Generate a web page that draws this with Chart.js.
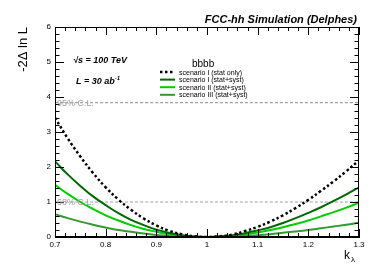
<!DOCTYPE html>
<html>
<head>
<meta charset="utf-8">
<script src="https://cdn.jsdelivr.net/npm/chart.js@4.4.1/dist/chart.umd.min.js"></script>
<style>
  html, body { margin: 0; padding: 0; background: #fff; }
</style>
</head>
<body>
<canvas id="scan" width="390" height="265"></canvas>
<script>
// kappa_lambda scan points
const kappa = [0.7, 0.725, 0.75, 0.775, 0.8, 0.825, 0.85, 0.875, 0.9, 0.925, 0.95, 0.975, 1.0,
               1.025, 1.05, 1.075, 1.1, 1.125, 1.15, 1.175, 1.2, 1.225, 1.25, 1.275, 1.3];

// -2 delta ln L for each scenario
const statOnly = [3.41, 2.82, 2.30, 1.83, 1.42, 1.07, 0.78, 0.53, 0.33, 0.18, 0.08, 0.02, 0,
                  0.02, 0.07, 0.17, 0.29, 0.44, 0.62, 0.83, 1.06, 1.32, 1.59, 1.88, 2.19];
const scenarioI = [2.16, 1.79, 1.46, 1.16, 0.91, 0.68, 0.49, 0.34, 0.21, 0.12, 0.05, 0.012, 0,
                   0.012, 0.05, 0.11, 0.19, 0.28, 0.40, 0.54, 0.69, 0.85, 1.03, 1.22, 1.42];
const scenarioII = [1.49, 1.23, 1.00, 0.80, 0.62, 0.47, 0.34, 0.23, 0.15, 0.08, 0.04, 0.01, 0,
                    0.01, 0.03, 0.07, 0.13, 0.20, 0.28, 0.37, 0.47, 0.59, 0.71, 0.84, 0.98];
const scenarioIII = [0.65, 0.54, 0.44, 0.35, 0.27, 0.20, 0.15, 0.10, 0.06, 0.03, 0.01, 0.003, 0,
                     0.003, 0.01, 0.03, 0.05, 0.08, 0.12, 0.16, 0.20, 0.25, 0.30, 0.35, 0.41];

const seriesNames = ['scenario I (stat only)', 'scenario I (stat+syst)',
                     'scenario II (stat+syst)', 'scenario III (stat+syst)'];

// confidence levels
const clLevels = [3.84, 1];
const clLabels = ['95% C.L.', '68% C.L.'];

const xRange = [0.7, 1.3];
const yRange = [0, 6];

const pts = ys => kappa.map((k, i) => ({ x: k, y: ys[i] }));
const flat = v => xRange.map(x => ({ x: x, y: v }));

const FONT = '"Liberation Sans", Arial, sans-serif';

// ROOT style frame, inward ticks and text
const rootStyle = {
  id: 'rootStyle',
  afterDatasetsDraw(chart) {
    const ctx = chart.ctx;
    const a = chart.chartArea;
    const xs = chart.scales.x, ys = chart.scales.y;
    ctx.save();
    ctx.strokeStyle = '#000';
    ctx.lineWidth = 1;
    ctx.strokeRect(a.left + 0.5, a.top + 0.5, a.right - a.left - 1, a.bottom - a.top - 1);

    ctx.beginPath();
    for (let i = 0; i <= 30; i++) {
      const v = xRange[0] + i * 0.02;
      const px = Math.round(xs.getPixelForValue(v)) + 0.5;
      const len = i % 5 === 0 ? 8 : 4;
      ctx.moveTo(px, a.bottom); ctx.lineTo(px, a.bottom - len);
      ctx.moveTo(px, a.top); ctx.lineTo(px, a.top + len);
    }
    for (let i = 0; i <= 30; i++) {
      const v = yRange[0] + i * 0.2;
      const py = Math.round(ys.getPixelForValue(v)) + 0.5;
      const len = i % 5 === 0 ? 9 : 4.5;
      ctx.moveTo(a.left, py); ctx.lineTo(a.left + len, py);
      ctx.moveTo(a.right, py); ctx.lineTo(a.right - len, py);
    }
    ctx.stroke();

    // C.L. labels
    ctx.fillStyle = '#a0a0a0';
    ctx.font = '9px ' + FONT;
    ctx.textAlign = 'left';
    ctx.textBaseline = 'alphabetic';
    clLevels.forEach((lv, i) => {
      ctx.fillText(clLabels[i], a.left + 2, ys.getPixelForValue(lv) + 3);
    });

    // header text
    ctx.fillStyle = '#000';
    ctx.font = 'italic bold 11px ' + FONT;
    ctx.textAlign = 'right';
    ctx.fillText('FCC-hh Simulation (Delphes)', a.right - 2, 23);

    ctx.textAlign = 'left';
    ctx.font = 'italic bold 9px ' + FONT;
    ctx.fillText('\u221As = 100 TeV', 73, 63);
    ctx.fillText('L = 30 ab', 76, 84);
    const w = ctx.measureText('L = 30 ab').width;
    ctx.font = 'italic bold 6px ' + FONT;
    ctx.fillText('-1', 76 + w, 80);

    ctx.font = '10px ' + FONT;
    ctx.fillText('bbbb', 192, 67);

    // legend
    ctx.font = '7px ' + FONT;
    chart.data.datasets.slice(0, 4).forEach((ds, i) => {
      const y = 72 + i * 7.6;
      ctx.strokeStyle = ds.borderColor;
      ctx.lineWidth = ds.borderWidth;
      ctx.setLineDash(ds.borderDash || []);
      ctx.beginPath();
      ctx.moveTo(160, y); ctx.lineTo(175, y);
      ctx.stroke();
      ctx.setLineDash([]);
      ctx.fillStyle = '#000';
      ctx.fillText(seriesNames[i], 179, y + 2.5);
    });

    // axis titles
    ctx.font = '12px ' + FONT;
    ctx.textAlign = 'left';
    ctx.fillText('k', 344, 259);
    ctx.font = '8px ' + FONT;
    ctx.fillText('\u03BB', 351, 262);

    ctx.translate(27, a.top);
    ctx.rotate(-Math.PI / 2);
    ctx.font = '13px ' + FONT;
    ctx.textAlign = 'right';
    ctx.fillText('-2\u0394 ln L', 0, 0);
    ctx.restore();
  }
};

const lineStyle = (color, width, dash) => ({
  borderColor: color, backgroundColor: color, borderWidth: width,
  borderDash: dash, pointRadius: 0, fill: false, tension: 0.4
});

new Chart(document.getElementById('scan'), {
  type: 'line',
  data: {
    datasets: [
      Object.assign({ label: seriesNames[0], data: pts(statOnly) }, lineStyle('#000000', 2.5, [2.5, 2.5])),
      Object.assign({ label: seriesNames[1], data: pts(scenarioI) }, lineStyle('#006600', 2)),
      Object.assign({ label: seriesNames[2], data: pts(scenarioII) }, lineStyle('#00cc00', 2)),
      Object.assign({ label: seriesNames[3], data: pts(scenarioIII) }, lineStyle('#339933', 2)),
      Object.assign({ label: clLabels[0], data: flat(clLevels[0]) }, lineStyle('#a0a0a0', 1.2, [3, 2])),
      Object.assign({ label: clLabels[1], data: flat(clLevels[1]) }, lineStyle('#a0a0a0', 1.2, [3, 2]))
    ]
  },
  options: {
    responsive: false,
    animation: false,
    layout: { padding: { top: 27, right: 31, left: 0, bottom: 0 } },
    plugins: { legend: { display: false }, tooltip: { enabled: false } },
    scales: {
      x: {
        type: 'linear', min: xRange[0], max: xRange[1],
        grid: { display: false, drawTicks: false },
        border: { display: true, color: '#000', width: 1 },
        ticks: {
          stepSize: 0.1, padding: 3, color: '#000',
          font: { family: FONT, size: 8 },
          callback: v => String(+v.toFixed(1))
        },
        afterFit: s => { s.height = 28; }
      },
      y: {
        min: yRange[0], max: yRange[1],
        grid: { display: false, drawTicks: false },
        border: { display: true, color: '#000', width: 1 },
        ticks: {
          stepSize: 1, padding: 4, color: '#000',
          font: { family: FONT, size: 8 }
        },
        afterFit: s => { s.width = 55; }
      }
    }
  },
  plugins: [rootStyle]
});
</script>
</body>
</html>
